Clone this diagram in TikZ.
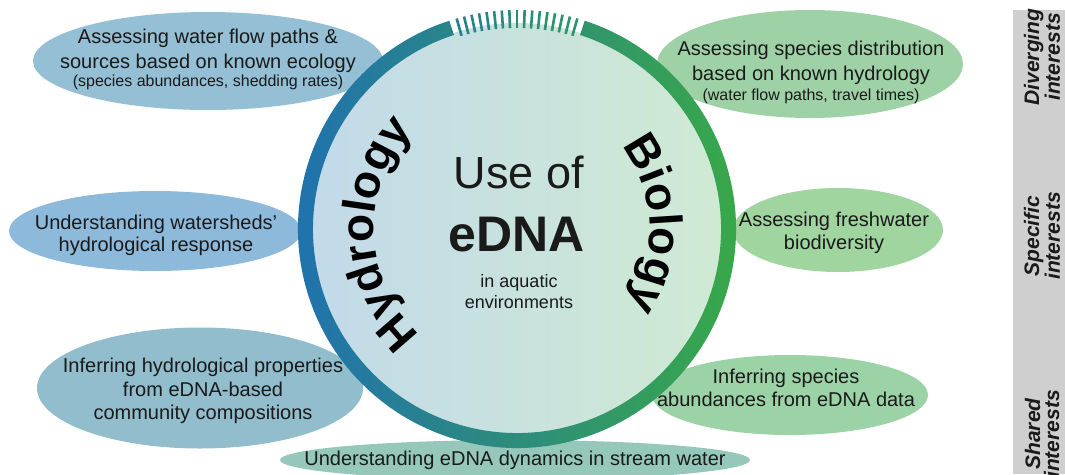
\documentclass[tikz,border=0pt]{standalone}
\usepackage{fontspec}
\setmainfont{Liberation Sans}
\usetikzlibrary{shapes.geometric,decorations.text}
\newcommand\myfs[2]{\fontsize{#1}{#2}\selectfont}
\definecolor{eA}{HTML}{94BFD4}
\definecolor{eB}{HTML}{8DB9DB}
\definecolor{eC}{HTML}{91BDCD}
\definecolor{eD}{HTML}{95C8BB}
\definecolor{eE}{HTML}{9ED2A6}
\definecolor{eF}{HTML}{A0D59F}
\definecolor{eG}{HTML}{9CD3A6}
\definecolor{discL}{HTML}{C2DAE9}
\definecolor{discR}{HTML}{CFEAD3}
\definecolor{ringL}{HTML}{1F6FB3}
\definecolor{ringM}{HTML}{2A8A8C}
\definecolor{ringR}{HTML}{3AAB43}
\definecolor{tickL}{HTML}{277F92}
\definecolor{tickR}{HTML}{2C9766}
\definecolor{panel}{HTML}{CFCFCF}
\definecolor{ink}{HTML}{1A1A1A}
\tikzset{
  bubble/.style={ellipse, inner sep=0pt, draw=none},
  txt/.style={align=center, text=ink, inner sep=0pt, font=\myfs{20}{23}},
  side/.style={rotate=90, align=center, text=ink, inner sep=0pt, font=\bfseries\itshape\myfs{21}{19}}
}
\begin{document}
\begin{tikzpicture}[x=1pt,y=1pt]
\useasboundingbox (0,0) rectangle (1065,-474);
% ellipses
\node[bubble, fill=eA, minimum width=350pt, minimum height=98pt]  (e1) at (208,-61) {};
\node[bubble, fill=eB, minimum width=292pt, minimum height=80pt]  (e2) at (155,-231) {};
\node[bubble, fill=eC, minimum width=326pt, minimum height=121pt] (e3) at (200,-388) {};
\node[bubble, fill=eD, minimum width=470pt, minimum height=40pt]  (e4) at (515,-460) {};
\node[bubble, fill=eE, minimum width=306pt, minimum height=108pt] (e5) at (810,-64) {};
\node[bubble, fill=eF, minimum width=210pt, minimum height=84pt]  (e6) at (838,-230) {};
\node[bubble, fill=eG, minimum width=276pt, minimum height=80pt]  (e7) at (790,-395) {};
% disc
\node[circle, inner sep=0pt, minimum size=412pt, left color=discL, right color=discR] (disc) at (517,-229) {};
% ring
\shade[left color=ringL, middle color=ringM, right color=ringR]
  ([shift={(disc.center)}]108:219) arc[start angle=108, end angle=432, radius=219]
  -- ([shift={(disc.center)}]432:204) arc[start angle=432, end angle=108, radius=204] -- cycle;
\foreach \i in {0,...,16}{
  \pgfmathsetmacro\ang{106-2*\i}
  \pgfmathtruncatemacro\pc{100-\i*100/16}
  \draw[line width=2.6pt, color=tickL!\pc!tickR]
    ([shift={(disc.center)}]\ang:201) -- ([shift={(disc.center)}]\ang:219);
}
% curved titles
\path[decorate, decoration={text along path, text align=center,
  text={|\bfseries\myfs{46}{46}|Hydrology}}]
  ([shift={(disc.center)}]242:143) arc[start angle=242, end angle=122, radius=143];
\path[decorate, decoration={text along path, text align=center,
  text={|\bfseries\myfs{46}{46}|Biology}}]
  ([shift={(disc.center)}]62:133) arc[start angle=62, end angle=-58, radius=133];
% centre text
\node[anchor=base, text=ink, inner sep=0pt, font=\myfs{45}{45}] (use) at (519,-188) {Use of};
\node[anchor=base, text=ink, inner sep=0pt, font=\bfseries\myfs{50}{50}] (edna) at (517,-251) {eDNA};
\node[txt, font=\myfs{18}{21}] (aqua) at (519,-292) {in aquatic\\environments};
% ellipse texts
\node[txt, font=\myfs{20}{25}] (t1) at (208,-59) {Assessing water flow paths \&\\sources based on known ecology\\[-7pt]{\myfs{16}{18}(species abundances, shedding rates)}};
\node[txt, font=\myfs{20}{22}] (t2) at (156,-235) {Understanding watersheds'\\hydrological response};
\node[txt, font=\myfs{20}{23.5}] (t3) at (203,-391) {Inferring hydrological properties\\from eDNA-based\\community compositions};
\node[txt] (t4) at (515,-460) {Understanding eDNA dynamics in stream water};
\node[txt, font=\myfs{20}{25}] (t5) at (811,-72) {Assessing species distribution\\based on known hydrology\\[-5pt]{\myfs{16}{18}(water flow paths, travel times)}};
\node[txt] (t6) at (834,-233) {Assessing freshwater\\biodiversity};
\node[txt] (t7) at (786,-388) {Inferring species\\abundances from eDNA data};
% side panel
\fill[panel] (1013,-10) rectangle (1065,-474);
\node[side] (div) at (1042,-57) {Diverging\\interests};
\node[side] (spe) at (1042,-236) {Specific\\interests};
\node[side] (sha) at (1042,-434) {Shared\\interests};
\end{tikzpicture}
\end{document}
